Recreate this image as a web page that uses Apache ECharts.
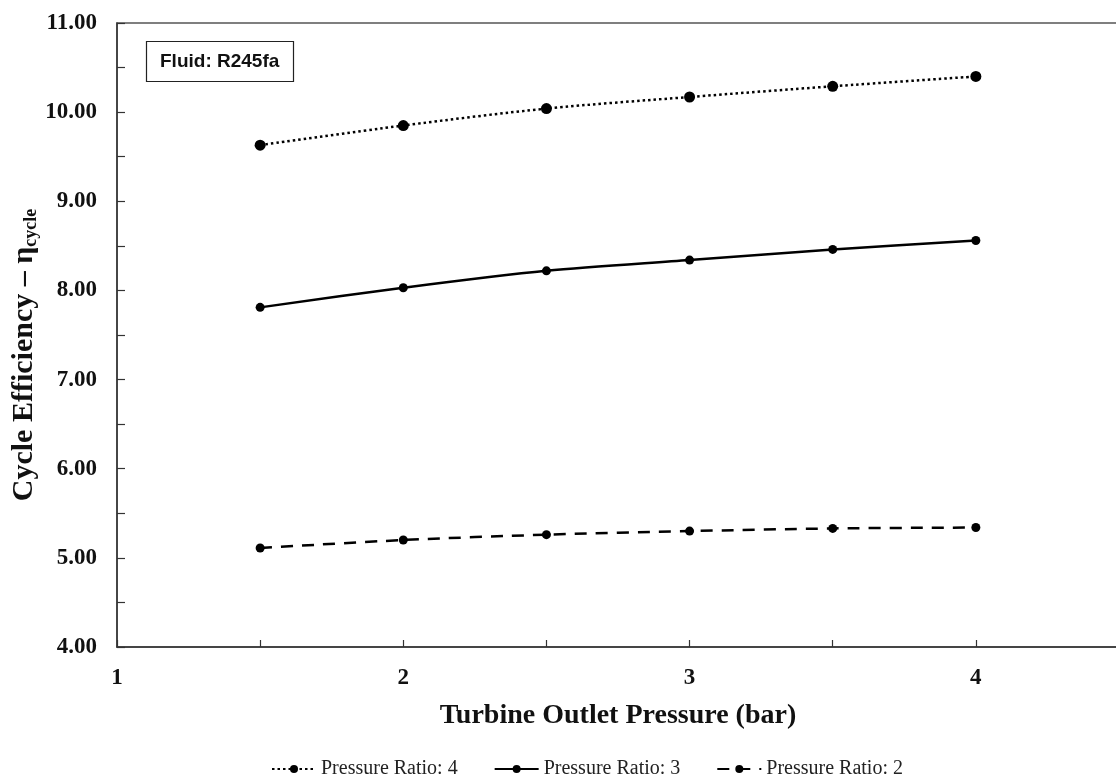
<!DOCTYPE html>
<html>
<head>
<meta charset="utf-8">
<script src="https://cdn.jsdelivr.net/npm/echarts@6/dist/echarts.min.js"></script>
<style>
html,body{margin:0;padding:0;background:#fff;}
#chart{width:1116px;height:784px;}
</style>
</head>
<body>
<div id="chart"></div>
<script>
const pressures = [1.5, 2, 2.5, 3, 3.5, 4];
const ratio4 = [9.63, 9.85, 10.04, 10.17, 10.29, 10.40];
const ratio3 = [7.81, 8.03, 8.22, 8.34, 8.46, 8.56];
const ratio2 = [5.11, 5.20, 5.26, 5.30, 5.33, 5.34];
const seriesNames = ['Pressure Ratio: 4', 'Pressure Ratio: 3', 'Pressure Ratio: 2'];
const xTickLabels = ['1', '2', '3', '4'];
const annotation = 'Fluid: R245fa';

const pairs = v => pressures.map((p, i) => [p, v[i]]);
const serif = '"Liberation Serif", "Times New Roman", serif';

const chart = echarts.init(document.getElementById('chart'));
chart.setOption({
  backgroundColor: '#fff',
  animation: false,
  title: {
    text: annotation,
    left: 146, top: 41,
    padding: [10, 14, 10, 14],
    borderColor: '#222', borderWidth: 1.2,
    textStyle: { fontFamily: '"Liberation Sans", Arial, sans-serif', fontWeight: 'bold', fontSize: 19, color: '#111', lineHeight: 21 }
  },
  grid: { left: 117, right: -3, top: 23, bottom: 137, show: true, borderColor: '#555', borderWidth: 1.5, backgroundColor: 'transparent', containLabel: false, outerBoundsMode: 'none' },
  legend: {
    bottom: 0, left: 266,
    itemWidth: 44, itemHeight: 10, itemGap: 36,
    textStyle: { fontFamily: serif, fontSize: 20, color: '#222' },
    data: seriesNames
  },
  xAxis: {
    type: 'value', min: 1, max: 4.5, interval: 0.5,
    name: 'Turbine Outlet Pressure (bar)', nameLocation: 'middle', nameGap: 55,
    nameMoveOverlap: false,
    nameTextStyle: { fontFamily: serif, fontWeight: 'bold', fontSize: 28, color: '#111' },
    axisLine: { show: true, lineStyle: { color: '#333', width: 1.5 } },
    axisTick: { show: true, inside: true, length: 7, lineStyle: { color: '#333', width: 1.2 } },
    axisLabel: {
      margin: 20, fontFamily: serif, fontWeight: 'bold', fontSize: 23, color: '#111',
      formatter: v => xTickLabels.indexOf(String(v)) >= 0 ? String(v) : '',
      showMaxLabel: false
    },
    splitLine: { show: false }
  },
  yAxis: {
    type: 'value', min: 4, max: 11, interval: 1,
    name: '{m|Cycle Efficiency – η}{s|cycle}', nameLocation: 'middle', nameGap: 73,
    nameMoveOverlap: false,
    nameTextStyle: {
      fontFamily: serif, fontWeight: 'bold', color: '#111',
      padding: [0, 40, 0, 0],
      rich: {
        m: { fontFamily: serif, fontWeight: 'bold', fontSize: 30, lineHeight: 40, verticalAlign: 'middle', color: '#111' },
        s: { fontFamily: serif, fontWeight: 'bold', fontSize: 18, lineHeight: 40, verticalAlign: 'bottom', color: '#111', padding: [0, 0, 4, 0] }
      }
    },
    axisLine: { show: true, lineStyle: { color: '#333', width: 1.5 } },
    axisTick: { show: true, inside: true, length: 8, lineStyle: { color: '#333', width: 1.2 } },
    minorTick: { show: true, splitNumber: 2, length: 8, lineStyle: { color: '#333', width: 1.2 } },
    axisLabel: { margin: 20, fontFamily: serif, fontWeight: 'bold', fontSize: 23, color: '#111', formatter: v => v.toFixed(2) },
    splitLine: { show: false }
  },
  series: [
    {
      name: seriesNames[0], type: 'line', data: pairs(ratio4), smooth: 0.3,
      symbol: 'circle', symbolSize: 11,
      lineStyle: { color: '#000', width: 2.5, type: [2.5, 3] },
      itemStyle: { color: '#000' }
    },
    {
      name: seriesNames[1], type: 'line', data: pairs(ratio3), smooth: 0.3,
      symbol: 'circle', symbolSize: 9,
      lineStyle: { color: '#000', width: 2.5, type: 'solid' },
      itemStyle: { color: '#000' }
    },
    {
      name: seriesNames[2], type: 'line', data: pairs(ratio2), smooth: 0.3,
      symbol: 'circle', symbolSize: 9,
      lineStyle: { color: '#000', width: 2.5, type: [12, 9] },
      itemStyle: { color: '#000' }
    }
  ]
});
</script>
</body>
</html>
